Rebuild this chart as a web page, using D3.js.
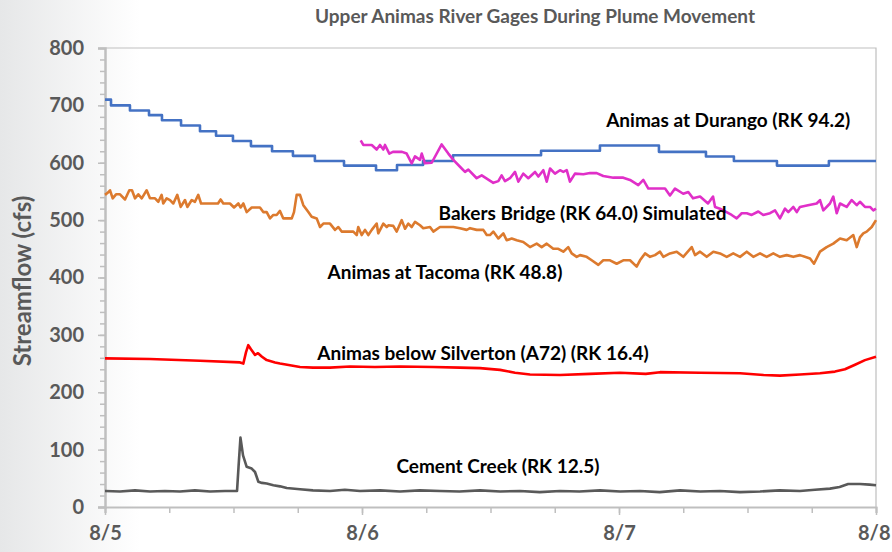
<!DOCTYPE html>
<html><head><meta charset="utf-8">
<script src="https://cdn.jsdelivr.net/npm/d3@7"></script>
<style>html,body{margin:0;padding:0;background:#fff;}svg{display:block;}</style>
</head><body><div id="chart"></div>
<script>
// Hours since 8/5 00:00 and streamflow (cfs)
const xTickLabels = ["8/5", "8/6", "8/7", "8/8"];
const yTickValues = [0, 100, 200, 300, 400, 500, 600, 700, 800];

const durangoHours = [0,0.56,2.33,4.11,5.32,7.1,8.87,10.37,11.95,13.63,15.6,17.55,19.6,22.32,25.31,27.27,29.7,32.5,40.72,46.22,51.73,56.12,58.73,62.75,67.6,72];
const durangoCfs   = [710,700,691,683,674,665,655,647,638,629,620,612,603,595,587,596,603,613,621,630,619,611,603,595,603,603];

const bakersHours = [23.88,24.12,24.91,25.37,25.68,25.99,26.15,26.55,26.89,27.74,28.17,28.64,28.95,29.42,29.58,29.88,30.51,31.44,32.06,32.53,33.15,33.62,33.93,34.71,35.18,36.26,36.73,37.04,37.35,37.82,38.29,38.6,39.06,39.53,40.16,40.47,40.93,41.25,41.56,42.02,42.49,42.8,43.12,43.42,43.89,44.67,45.29,45.92,46.53,47.47,48.4,49.03,49.8,50.27,50.74,51.52,52.3,52.76,53.23,54,54.47,54.91,55.57,56.31,56.78,56.97,57.43,58.52,58.99,59.46,59.93,60.39,61.01,61.47,62.1,62.57,63.03,63.5,63.81,64.28,64.6,64.9,65.65,66.46,66.77,67.08,67.7,68.01,68.33,68.64,69.26,69.73,70.2,70.5,70.97,71.44,71.75,72];
const bakersCfs   = [639,631,631,623,631,623,631,616,619,619,616,599,611,605,616,599,600,632,616,605,593,584,588,573,578,565,568,578,568,573,584,567,581,573,584,576,587,567,590,581,587,584,587,567,581,580,582,582,577,574,574,570,561,570,555,555,555,543,555,546,549,538,541,529,541,523,520,509,503,512,512,509,515,509,512,517,503,520,514,523,514,523,526,529,535,517,529,541,512,529,523,535,526,532,523,523,517,520];

const tacomaHours = [0,0.28,0.47,0.72,1.03,1.4,1.87,2.27,2.52,2.8,3.11,3.43,3.89,4.2,4.67,4.98,5.29,5.44,5.76,6.07,6.38,6.75,7.07,7.47,7.69,8.1,8.4,8.71,8.97,10.55,10.8,11.05,11.67,12.05,12.45,12.67,12.92,13.23,13.7,14.47,14.78,15.1,15.41,15.72,16.03,16.34,16.65,17.44,17.65,17.9,18.21,18.52,18.99,19.3,19.77,20.08,20.39,21.01,21.48,21.79,22.1,23.19,23.51,23.65,23.97,24.28,24.59,24.91,25.37,25.52,25.99,26.31,26.46,26.92,27.24,27.71,28.02,28.32,28.64,28.95,29.42,29.72,30.35,30.66,31.28,31.91,32.53,33.15,33.78,34.09,34.71,35.33,35.65,35.95,36.26,36.73,37.2,37.51,37.98,38.45,39.06,39.69,40.31,40.78,41.25,41.86,42.33,42.8,43.26,43.58,44.05,44.36,44.98,45.45,46.07,46.53,47.16,47.78,48.4,49.03,49.65,49.96,50.43,50.9,51.36,51.83,52.14,52.76,53.39,54,54.79,55.1,55.57,56.19,56.81,57.43,58.06,58.67,59.3,59.93,60.54,61.17,61.79,62.41,63.03,63.66,64.28,64.9,65.84,66.21,66.77,67.39,68.01,68.64,69.26,69.88,70.2,70.5,70.81,71.13,71.6,72];
const tacomaCfs   = [544,548,552,538,545,545,536,552,552,538,545,538,552,538,538,532,544,529,538,535,529,544,523,535,523,535,532,544,529,529,536,529,529,522,529,522,529,514,522,522,514,514,503,509,509,516,503,503,514,544,544,526,514,506,503,488,494,494,483,488,480,480,474,488,474,483,474,483,494,477,494,488,491,490,480,500,485,494,488,497,491,486,488,480,488,488,488,486,483,486,483,483,474,474,480,468,477,465,468,465,462,453,459,453,459,450,450,445,453,442,436,439,436,430,422,430,430,424,430,430,419,430,442,436,439,445,436,442,445,436,453,439,445,436,445,442,436,442,436,445,436,442,436,442,436,439,436,439,433,424,445,453,459,468,465,474,453,470,477,480,488,500];

const silvertonHours = [0,4.2,8.87,12.61,12.92,13.17,13.38,13.63,14.01,14.29,14.66,15.1,15.88,16.34,17.28,18.21,19.42,21.01,22.88,25.21,27.55,30.63,33.15,35.02,36.89,38.29,39.69,42.49,45.29,48.09,50.5,51.83,55.57,59.3,61.5,63.03,64.9,66.77,68.17,69.1,70.04,70.97,72];
const silvertonCfs   = [259,258,255,252,250,270,282,275,265,268,262,256,252,250,247,244,243,243,245,244,245,244,243,242,239,234,231,230,232,234,232,235,234,233,230,229,231,233,236,240,248,256,262];

const cementHours = [0,1.4,2.8,4.2,5.6,7,8.4,9.81,11.21,12.33,12.47,12.65,12.89,13.23,13.7,14.01,14.32,14.66,15.1,15.72,16.34,16.97,18.21,19.42,21.01,22.4,23.81,25.7,27.55,29.4,31.28,33.1,35.02,36.9,38.75,40.6,42.49,44.3,46.22,48.1,49.96,51.8,53.7,55.6,57.43,59.3,61.17,63,64.9,66.3,67.7,68.6,69.4,70.5,71.4,72];
const cementCfs   = [28,27,29,27,28,27,29,27,28,28,70,121,90,70,67,61,44,42,41,38,36,33,31,29,28,30,28,29,27,29,28,27,29,27,28,26,28,27,29,27,28,26,29,27,28,26,27,29,28,30,32,35,40,40,39,38];

const seriesLabels = ["Animas at Durango (RK 94.2)", "Bakers Bridge (RK 64.0) Simulated", "Animas at Tacoma (RK 48.8)", "Animas below Silverton (A72) (RK 16.4)", "Cement Creek (RK 12.5)"];

const W = 892, H = 552;
const m = {left: 105, right: 16, top: 48, bottom: 45};
const svg = d3.select("#chart").append("svg").attr("width", W).attr("height", H);

const defs = svg.append("defs");
const grad = defs.append("linearGradient").attr("id", "bg").attr("x1", 0).attr("x2", 1).attr("y1", 0).attr("y2", 0);
grad.append("stop").attr("offset", "0%").attr("stop-color", "#e6e7e8");
grad.append("stop").attr("offset", "100%").attr("stop-color", "#ffffff");
svg.append("rect").attr("width", W).attr("height", H).attr("fill", "#fff");
svg.append("rect").attr("width", 140).attr("height", H).attr("fill", "url(#bg)");

const x = d3.scaleLinear().domain([0, 72]).range([m.left, W - m.right]);
const y = d3.scaleLinear().domain([0, 800]).range([H - m.bottom, m.top]);

// plot border (top & right)
svg.append("path")
  .attr("d", `M${x(0)},${y(800)}H${x(72)}V${y(0)}`)
  .attr("fill", "none").attr("stroke", "#bfbfbf").attr("stroke-width", 1.2);

const font = "Lato, 'Open Sans', sans-serif";
const gray = "#595959";

// y minor ticks
const yAxisMinor = d3.axisLeft(y).tickValues(d3.range(0, 801, 20)).tickSize(5).tickFormat("");
svg.append("g").attr("transform", `translate(${m.left},0)`).call(yAxisMinor)
  .call(g => { g.select(".domain").remove(); g.selectAll("line").attr("stroke", "#bfbfbf").attr("stroke-width", 1.5); });
const yAxis = d3.axisLeft(y).tickValues(yTickValues).tickSize(7).tickPadding(14);
svg.append("g").attr("transform", `translate(${m.left},0)`).call(yAxis)
  .call(g => {
    g.select(".domain").attr("stroke", "#bfbfbf").attr("stroke-width", 2.5);
    g.selectAll("line").attr("stroke", "#bfbfbf").attr("stroke-width", 1.5);
    g.selectAll("text").attr("fill", gray).attr("font-family", font).attr("font-weight", "bold").attr("font-size", 20);
  });

// x axis
const xAxisMinor = d3.axisBottom(x).tickValues(d3.range(0, 73, 6)).tickSize(6).tickFormat("");
svg.append("g").attr("transform", `translate(0,${y(0)})`).call(xAxisMinor)
  .call(g => { g.select(".domain").attr("stroke", "#bfbfbf").attr("stroke-width", 2); g.selectAll("line").attr("stroke", "#bfbfbf").attr("stroke-width", 1.5); });
const xAxis = d3.axisBottom(x).tickValues([0, 24, 48, 72]).tickSize(8).tickPadding(11).tickFormat((d, i) => xTickLabels[i]);
svg.append("g").attr("transform", `translate(0,${y(0)})`).call(xAxis)
  .call(g => {
    g.select(".domain").remove();
    g.selectAll("line").attr("stroke", "#bfbfbf").attr("stroke-width", 1.5);
    g.selectAll("text").attr("fill", gray).attr("font-family", font).attr("font-weight", "bold").attr("font-size", 20);
    // keep last label inside the window
    g.selectAll("text").filter(d => d === 72).attr("text-anchor", "end").attr("dx", 14);
  });

// series
const series = [
  {h: durangoHours, v: durangoCfs, color: "#4472c4", curve: d3.curveStepAfter},
  {h: tacomaHours, v: tacomaCfs, color: "#dc7a2e", curve: d3.curveLinear},
  {h: bakersHours, v: bakersCfs, color: "#e02fc8", curve: d3.curveLinear},
  {h: silvertonHours, v: silvertonCfs, color: "#ff0000", curve: d3.curveLinear},
  {h: cementHours, v: cementCfs, color: "#595959", curve: d3.curveLinear}
];
series.forEach(s => {
  const line = d3.line().x((d, i) => x(s.h[i])).y(d => y(d)).curve(s.curve);
  svg.append("path").attr("d", line(s.v)).attr("fill", "none")
    .attr("stroke", s.color).attr("stroke-width", 2.6).attr("stroke-linejoin", "round");
});

// title
svg.append("text").attr("x", 535).attr("y", 23).attr("text-anchor", "middle")
  .attr("font-family", font).attr("font-weight", "bold").attr("font-size", 19).attr("fill", gray)
  .text("Upper Animas River Gages During Plume Movement");

// y title
svg.append("text").attr("transform", `translate(31,${281}) rotate(-90)`).attr("text-anchor", "middle")
  .attr("font-family", font).attr("font-weight", "bold").attr("font-size", 24).attr("fill", gray)
  .text("Streamflow (cfs)");

// series labels (positioned in data coordinates)
const labelPos = [[58.2, 674], [44.6, 512], [31.75, 409], [35.3, 268], [36.7, 71]];
seriesLabels.forEach((t, i) => {
  svg.append("text").attr("x", x(labelPos[i][0])).attr("y", y(labelPos[i][1])).attr("dy", "0.35em")
    .attr("text-anchor", "middle").attr("font-family", font).attr("font-weight", "bold")
    .attr("font-size", 19).attr("fill", "#000").text(t);
});
</script></body></html>
